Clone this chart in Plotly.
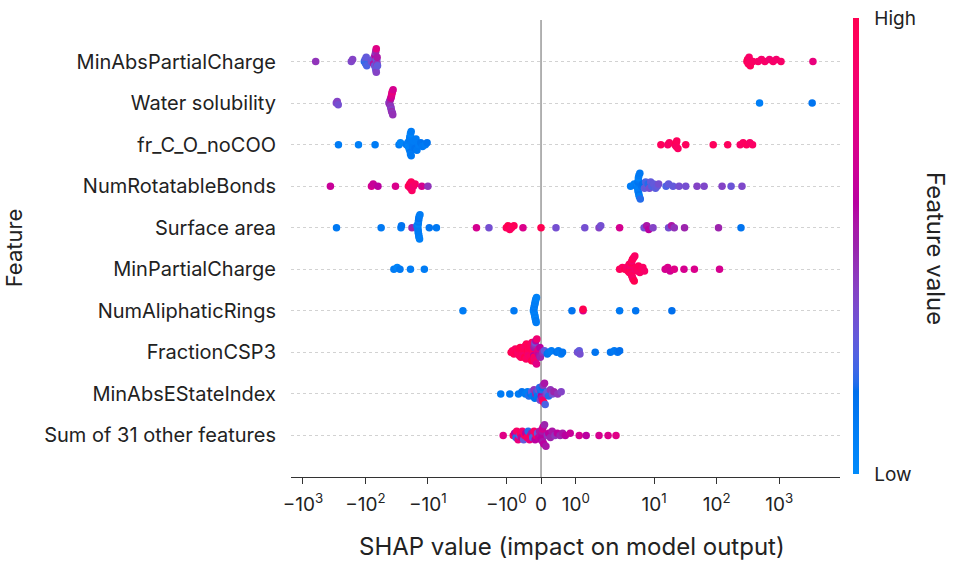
import numpy as np
import plotly.graph_objects as go

# ---------------- data ----------------
features = ["MinAbsPartialCharge", "Water solubility", "fr_C_O_noCOO", "NumRotatableBonds",
            "Surface area", "MinPartialCharge", "NumAliphaticRings", "FractionCSP3",
            "MinAbsEStateIndex", "Sum of 31 other features"]

shap_minabspartialcharge = [-624, -168, -160, -104, -101, -99, -97, -95, -80, -76, -74, -72, -71, -70,
                            -69, -69, -68, -68, -67, -67, -66, -66, -65, -65, -64,
                            305, 312, 320, 330, 345, 380, 460, 520, 590, 700, 800, 900, 1070, 3470]
fv_minabspartialcharge = [0.45, 0.38, 0.40, 0.20, 0.28, 0.22, 0.30, 0.25, 0.35, 0.30, 0.55, 0.40, 0.30, 0.60,
                          0.35, 0.45, 0.30, 0.50, 0.40, 0.75, 0.35, 0.30, 0.45, 0.55, 0.30,
                          0.95, 1.00, 0.92, 0.90, 0.95, 0.92, 0.90, 0.88, 0.90, 0.85, 0.90, 0.88, 0.90, 0.80]

shap_water = [-292, -282, -272, -42, -41, -40.5, -40, -39.5, -39, -39, -38.5, -38.5, -38, -38,
              -37.5, -37, -37, -36.5, -36, 486, 3370]
fv_water = [0.38, 0.40, 0.35, 0.45, 0.40, 0.50, 0.50, 0.42, 0.65, 0.45, 0.68, 0.40, 0.72, 0.48,
            0.75, 0.44, 0.80, 0.46, 0.70, 0.08, 0.15]

shap_frco = [-270, -129, -70, -29, -27.5, -22, -21, -20.5, -20, -20, -19.5, -19.5, -19.5, -19, -19, -19, -19,
             -18.5, -18.5, -18, -18, -17.5, -17, -16, -15.5, -15, -14, -13, -12.2, -11, -10.3,
             12.8, 16.5, 17.5, 21.5, 22.5, 22.5, 23, 24, 32, 88, 150, 238, 265, 300, 340, 375]
fv_frco = [0.10, 0.08, 0.10, 0.10, 0.05, 0.12, 0.10, 0.05, 0.10, 0.08, 0.12, 0.06, 0.10, 0.15, 0.08, 0.10, 0.05,
           0.12, 0.10, 0.08, 0.10, 0.12, 0.10, 0.15, 0.10, 0.12, 0.10, 0.15, 0.12, 0.10, 0.15,
           0.95, 0.90, 0.92, 0.97, 1.00, 0.90, 0.95, 0.93, 0.95, 0.95, 0.95, 0.90, 0.93, 0.95, 0.90, 0.92]

shap_numrot = [-363, -80, -75, -63, -33, -20.5, -19.5, -19, -18.5, -18, -17, -16, -12.5, -10,
               4.2, 4.8, 5.2, 5.4, 5.5, 5.5, 5.5, 5.6, 5.6, 5.6, 5.7, 5.7, 5.8, 5.9, 6.0, 6.3, 6.6, 7.0,
               7.3, 7.6, 8.0, 8.4, 8.8, 9.2, 9.8, 10.5, 11.2, 11.8, 15.5, 17, 20, 25, 32, 48.5, 63, 122, 170, 254]
fv_numrot = [0.65, 0.70, 0.65, 0.60, 0.72, 0.95, 1.00, 0.90, 0.95, 0.92, 0.85, 0.90, 0.70, 0.45,
             0.10, 0.08, 0.12, 0.05, 0.10, 0.15, 0.08, 0.12, 0.10, 0.06, 0.14, 0.10, 0.08, 0.12, 0.20, 0.15, 0.18, 0.30,
             0.25, 0.30, 0.20, 0.35, 0.30, 0.25, 0.30, 0.28, 0.30, 0.35, 0.25, 0.30, 0.30, 0.35, 0.35, 0.40, 0.38, 0.40, 0.32, 0.38]

shap_surface = [-290, -56, -27, -26.5, -18, -15, -14.6, -14.5, -14.4, -14.3, -14.3, -14.2, -14.2, -14.1, -14,
                -14, -13.9, -13.8, -13.6, -13.4, -9.5, -7.3, -1.86, -1.5, -1.0, -0.95, -0.9, -0.85, -0.78, -0.52,
                0.0, 0.43, 1.26, 1.67, 1.72, 2.8, 6.9, 7.6, 8.2, 9.6, 17, 19, 21, 30.6, 107, 245]
fv_surface = [0.12, 0.12, 0.10, 0.15, 0.50, 0.10, 0.08, 0.12, 0.10, 0.05, 0.10, 0.12, 0.10, 0.08, 0.10,
              0.15, 0.10, 0.12, 0.08, 0.10, 0.15, 0.12, 0.70, 0.35, 0.95, 1.00, 0.95, 0.92, 0.97, 0.72,
              1.00, 0.35, 0.35, 0.40, 0.35, 0.70, 0.35, 0.55, 0.60, 0.40, 0.35, 0.55, 0.45, 0.50, 0.50, 0.15]

shap_minpartial = [-35, -31, -28, -19, -11.4,
                   2.8, 3.1, 3.4, 3.6, 3.8, 3.9, 4.0, 4.0, 4.1, 4.1, 4.2, 4.2, 4.2, 4.3, 4.3, 4.3, 4.4, 4.4,
                   4.5, 4.5, 4.6, 4.7, 4.8, 4.9, 5.0, 5.2, 5.4, 5.6, 5.9, 6.2, 6.6, 7.0,
                   15, 16.5, 18, 21, 30, 44, 111]
fv_minpartial = [0.10, 0.05, 0.12, 0.10, 0.10,
                 0.95, 0.92, 1.00, 0.90, 0.95, 0.88, 0.97, 0.92, 1.00, 0.90, 0.95, 0.85, 0.98, 0.92, 0.90, 1.00, 0.95, 0.88,
                 0.93, 0.97, 0.90, 0.95, 1.00, 0.92, 0.88, 0.95, 0.93, 0.97, 0.90, 0.95, 0.92, 0.90,
                 0.70, 0.72, 0.68, 0.75, 0.70, 0.72, 0.70]

shap_numaliph = [-2.75, -0.78, -0.22, -0.21, -0.2, -0.2, -0.19, -0.19, -0.18, -0.18, -0.17, -0.17,
                 -0.16, -0.16, -0.15, -0.15, -0.14, -0.13, 0.89, 1.21, 1.21, 2.8, 5.06, 19.2]
fv_numaliph = [0.10, 0.12, 0.08, 0.10, 0.05, 0.12, 0.10, 0.08, 0.06, 0.12, 0.10, 0.08,
               0.05, 0.10, 0.12, 0.08, 0.10, 0.06, 0.15, 0.70, 1.00, 0.12, 0.15, 0.18]

shap_fraction = [-0.86, -0.82, -0.78, -0.74, -0.71, -0.69, -0.66, -0.64, -0.62, -0.6,
                 -0.58, -0.56, -0.55, -0.53, -0.51, -0.5, -0.48, -0.47, -0.45, -0.43,
                 -0.42, -0.4, -0.39, -0.37, -0.36, -0.35, -0.33, -0.32, -0.3, -0.29,
                 -0.28, -0.27, -0.26, -0.25, -0.24, -0.23, -0.22, -0.21, -0.2, -0.2,
                 -0.19, -0.19, -0.18, -0.18, -0.17, -0.16, -0.15, -0.13, -0.12, -0.1,
                 -0.09, -0.07, -0.06, -0.04, -0.03, -0.02,
                 0.05, 0.1, 0.18, 0.22, 0.3, 0.45, 0.5, 0.58, 0.62, 1.05, 1.1, 1.12, 1.56, 2.0, 2.3, 2.6, 2.8]
fv_fraction = [1.00, 0.95, 0.97, 0.92, 1.00, 0.95, 0.90, 0.98, 0.93, 1.00,
               0.95, 0.90, 1.00, 0.92, 0.97, 0.88, 0.95, 1.00, 0.90, 0.93,
               0.97, 0.92, 1.00, 0.90, 0.95, 0.85, 0.98, 0.92, 0.95, 0.90,
               0.95, 1.00, 0.90, 0.93, 0.97, 0.88, 0.92, 0.60, 0.55, 0.95,
               0.50, 0.90, 0.45, 0.85, 0.35, 0.90, 0.60, 0.75, 0.85, 0.70,
               0.80, 0.65, 0.75, 0.55, 0.60, 0.50,
               0.45, 0.30, 0.15, 0.12, 0.10, 0.15, 0.12, 0.10, 0.15, 0.35, 0.30, 0.35, 0.15, 0.15, 0.12, 0.15, 0.18]

shap_minabse = [-1.16, -0.9, -0.65, -0.55, -0.45, -0.39, -0.35, -0.3, -0.27, -0.24, -0.2, -0.18, -0.15, -0.12,
                -0.1, -0.08, -0.06, -0.04, -0.02, 0.0, 0.0, 0.01, 0.02, 0.03, 0.04, 0.05, 0.06, 0.08,
                0.1, 0.12, 0.15, 0.18, 0.22, 0.27, 0.33, 0.37, 0.48, 0.58]
fv_minabse = [0.10, 0.12, 0.10, 0.15, 0.12, 0.10, 0.20, 0.15, 0.30, 0.12, 0.45, 0.15, 0.50, 0.20,
              0.12, 0.35, 0.15, 0.20, 0.40, 0.30, 0.15, 0.60, 0.20, 0.50, 0.15, 0.85, 0.45, 0.95,
              0.55, 0.25, 0.40, 0.30, 0.20, 0.45, 0.35, 0.50, 0.45, 0.40]

shap_sum = [-1.09, -0.8, -0.76, -0.72, -0.7, -0.66, -0.62, -0.6, -0.57, -0.54,
            -0.5, -0.47, -0.44, -0.4, -0.37, -0.33, -0.3, -0.27, -0.24, -0.2,
            -0.17, -0.14, -0.1, -0.07, -0.04, 0.0, 0.01, 0.02, 0.02, 0.03,
            0.03, 0.04, 0.05, 0.06, 0.08, 0.1, 0.14, 0.18, 0.22, 0.27,
            0.32, 0.4, 0.47, 0.55, 0.62, 0.7, 0.84, 1.1, 1.3, 1.67, 1.93, 2.45]
fv_sum = [0.75, 0.95, 0.60, 0.20, 0.90, 0.80, 0.25, 0.95, 0.65, 0.85,
          0.30, 0.95, 0.60, 0.90, 0.20, 0.80, 0.95, 0.55, 0.25, 0.90,
          0.60, 0.95, 0.30, 0.65, 0.55, 0.60, 0.50, 0.65, 0.60, 0.55,
          0.60, 0.70, 0.55, 0.65, 0.60, 0.50, 0.55, 0.45, 0.60, 0.50,
          0.55, 0.45, 0.60, 0.50, 0.55, 0.60, 0.65, 0.70, 0.60, 0.70, 0.72, 0.75]

row_shap = [shap_minabspartialcharge, shap_water, shap_frco, shap_numrot, shap_surface,
            shap_minpartial, shap_numaliph, shap_fraction, shap_minabse, shap_sum]
row_fv = [fv_minabspartialcharge, fv_water, fv_frco, fv_numrot, fv_surface,
          fv_minpartial, fv_numaliph, fv_fraction, fv_minabse, fv_sum]

tick_values = [-1000, -100, -10, -1, 0, 1, 10, 100, 1000]
tick_labels = ["\u221210<sup>3</sup>", "\u221210<sup>2</sup>", "\u221210<sup>1</sup>", "\u221210<sup>0</sup>",
               "0", "10<sup>0</sup>", "10<sup>1</sup>", "10<sup>2</sup>", "10<sup>3</sup>"]
x_limits = [-1550, 9400]
colorbar_labels = ["Low", "High"]

# ---------------- symlog scale (linthresh=2, linscale=1, base 10) ----------------
LINTHRESH = 2.0
LINSCALE_ADJ = 1.0 / (1.0 - 1.0 / 10.0)


def symlog(v):
    v = np.asarray(v, dtype=float)
    a = np.abs(v)
    logpart = np.sign(v) * LINTHRESH * (LINSCALE_ADJ + np.log10(np.maximum(a, 1e-12) / LINTHRESH))
    return np.where(a <= LINTHRESH, v * LINSCALE_ADJ, logpart)


# ---------------- beeswarm offsets (SHAP-style layering) ----------------
BIN = 5.0 / 31.25   # ~5 px in scaled units
ROW_HEIGHT = 0.4


def swarm(vals):
    t = symlog(vals)
    n = len(t)
    order = np.argsort(t, kind="stable")
    bins = np.zeros(n, dtype=int)
    b, start = -1, None
    for i in order:
        if start is None or t[i] - start > BIN:
            b += 1
            start = t[i]
        bins[i] = b
    order2 = np.lexsort((np.arange(n), bins))
    ys = np.zeros(n)
    layer, last = 0, None
    for i in order2:
        if bins[i] != last:
            layer = 0
        ys[i] = np.ceil(layer / 2) * ((layer % 2) * 2 - 1)
        layer += 1
        last = bins[i]
    ys *= 0.9 * (ROW_HEIGHT / max(np.max(ys + 1), 7))
    return t, ys


# ---------------- SHAP red_blue colormap (LCH interpolation) ----------------
def lch2rgb(l, c, h):
    a = c * np.cos(h)
    bb = c * np.sin(h)
    fy = (l + 16.0) / 116.0
    fx = fy + a / 500.0
    fz = fy - bb / 200.0

    def finv(t):
        return np.where(t > 0.2068966, t ** 3, (t - 16.0 / 116.0) / 7.787)

    X, Y, Z = 0.95047 * finv(fx), finv(fy), 1.08883 * finv(fz)
    r = 3.24048134 * X - 1.53715152 * Y - 0.49853633 * Z
    g = -0.96925495 * X + 1.87599 * Y + 0.04155593 * Z
    b2 = 0.05564664 * X - 0.20404134 * Y + 1.05731107 * Z
    rgb = np.array([r, g, b2], dtype=float)
    rgb = np.where(rgb > 0.0031308, 1.055 * np.power(np.clip(rgb, 1e-12, None), 1 / 2.4) - 0.055, 12.92 * rgb)
    return np.clip(rgb, 0, 1)


blue_lch = [54.0, 70.0, 4.6588]
red_lch = [54.0, 90.0, 0.35470565 + 2 * np.pi]
l_mid = 40.0
nsteps = 100
l_vals = list(np.linspace(blue_lch[0], l_mid, nsteps // 2)) + list(np.linspace(l_mid, red_lch[0], nsteps // 2))
c_vals = np.linspace(blue_lch[1], red_lch[1], nsteps)
h_vals = np.linspace(blue_lch[2], red_lch[2], nsteps)
colorscale = []
for pos, l, c, h in zip(np.linspace(0, 1, nsteps), l_vals, c_vals, h_vals):
    r, g, b = lch2rgb(l, c, h)
    colorscale.append([float(pos), f"rgb({int(round(r*255))},{int(round(g*255))},{int(round(b*255))})"])

# ---------------- build figure ----------------
n_rows = len(features)
all_x, all_y, all_c = [], [], []
for k, (sv, fv) in enumerate(zip(row_shap, row_fv)):
    assert len(sv) == len(fv), (features[k], len(sv), len(fv))
    t, ys = swarm(sv)
    ypos = n_rows - 1 - k
    all_x.extend(t.tolist())
    all_y.extend((ypos + ys).tolist())
    all_c.extend(fv)

FONT = "Inter, 'Open Sans', sans-serif"
TXT = "#222222"

fig = go.Figure()
fig.add_trace(go.Scatter(
    x=all_x, y=all_y, mode="markers", hoverinfo="skip",
    marker=dict(size=7.5, color=all_c, colorscale=colorscale, cmin=0, cmax=1, line=dict(width=0),
                colorbar=dict(thickness=6, lenmode="pixels", len=456, x=1.0237, xanchor="left",
                              y=0.5055, yanchor="middle", tickvals=[0, 1], ticktext=colorbar_labels,
                              ticks="outside", ticklen=12, tickcolor="rgba(0,0,0,0)", outlinewidth=0,
                              tickfont=dict(size=19, color=TXT, family=FONT), xpad=0, ypad=0)),
    showlegend=False))

fig.add_shape(type="line", x0=0, x1=0, xref="x", y0=0, y1=1, yref="paper",
              line=dict(color="#999999", width=1.5), layer="below")

fig.update_layout(
    width=960, height=569,
    margin=dict(l=291, r=120, t=20, b=92),
    paper_bgcolor="white", plot_bgcolor="white",
    font=dict(family=FONT, size=18, color=TXT),
    xaxis=dict(range=symlog(x_limits).tolist(), tickvals=symlog(tick_values).tolist(), ticktext=tick_labels,
               ticks="outside", ticklen=6, tickwidth=1, tickcolor="#333333",
               showline=True, linecolor="#333333", linewidth=1, showgrid=False, zeroline=False,
               ticklabelstandoff=4, tickfont=dict(size=19, color=TXT)),
    yaxis=dict(range=[-1, n_rows], tickvals=list(range(n_rows)), ticktext=features[::-1],
               showgrid=True, gridcolor="#d2d2d2", griddash="dot", gridwidth=1,
               zeroline=False, showline=False, ticks="", ticklabelstandoff=14,
               tickfont=dict(size=20, color=TXT)),
    annotations=[
        dict(text="SHAP value (impact on model output)", xref="paper", yref="paper", x=0.512, y=-0.153,
             xanchor="center", yanchor="middle", showarrow=False, font=dict(size=24, color=TXT)),
        dict(text="Feature", xref="paper", yref="paper", x=-0.505, y=0.5, textangle=-90,
             xanchor="center", yanchor="middle", showarrow=False, font=dict(size=22, color=TXT)),
        dict(text="Feature value", xref="paper", yref="paper", x=1.175, y=0.501, textangle=90,
             xanchor="center", yanchor="middle", showarrow=False, font=dict(size=24, color=TXT)),
    ],
)

fig.write_html("out.html")
